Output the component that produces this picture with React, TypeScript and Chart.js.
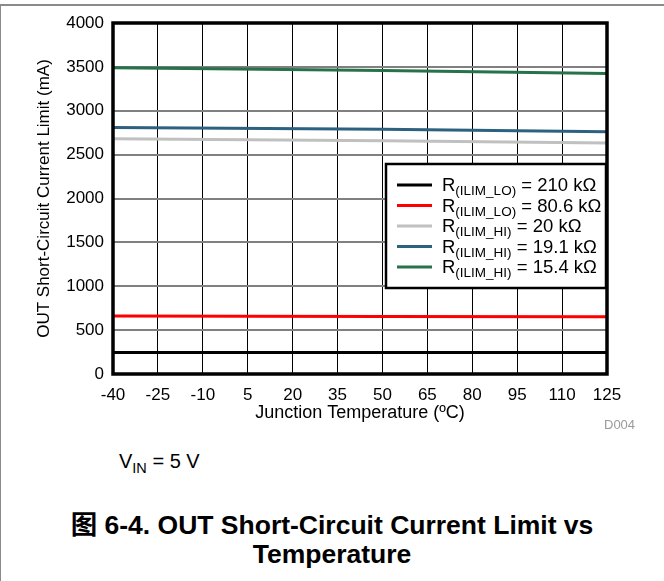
import React, { useEffect, useRef } from "react";
import { Chart, registerables } from "chart.js";

Chart.register(...registerables);

const FONT = "'Liberation Sans', Arial, Helvetica, sans-serif";

// Data
const temperatures = [-40, 50, 125];
const seriesBlack = [245, 245, 245];
const seriesRed = [660, 655, 652];
const seriesGray = [2680, 2658, 2632];
const seriesBlue = [2810, 2790, 2760];
const seriesGreen = [3490, 3460, 3425];

const seriesColors = ["#000000", "#ff0000", "#c0c0c0", "#2d6180", "#277249"];
const legendSub = ["(ILIM_LO)", "(ILIM_LO)", "(ILIM_HI)", "(ILIM_HI)", "(ILIM_HI)"];
const legendValue = ["210 kΩ", "80.6 kΩ", "20 kΩ", "19.1 kΩ", "15.4 kΩ"];

const xMin = -40;
const xMax = 125;
const xStep = 15;
const yMin = 0;
const yMax = 4000;
const yStep = 500;

const toPoints = (vals: number[]) => vals.map((v, i) => ({ x: temperatures[i], y: v }));

const legendPlugin = {
  id: "customLegend",
  afterDatasetsDraw(chart: any) {
    const { ctx, chartArea } = chart;
    const boxW = 220;
    const boxH = 124;
    const x0 = chartArea.right - boxW - 1;
    const y0 = chartArea.top + 141;
    ctx.save();
    ctx.fillStyle = "#ffffff";
    ctx.fillRect(x0, y0, boxW, boxH);
    ctx.lineWidth = 2.5;
    ctx.strokeStyle = "#000000";
    ctx.strokeRect(x0, y0, boxW, boxH);
    chart.data.datasets.forEach((ds: any, i: number) => {
      const y = y0 + 21 + i * 20.5;
      ctx.strokeStyle = ds.borderColor;
      ctx.lineWidth = 3;
      ctx.beginPath();
      ctx.moveTo(x0 + 11, y);
      ctx.lineTo(x0 + 46, y);
      ctx.stroke();
      ctx.fillStyle = "#000000";
      ctx.textBaseline = "alphabetic";
      ctx.textAlign = "left";
      let tx = x0 + 56;
      ctx.font = `18.5px ${FONT}`;
      ctx.fillText("R", tx, y + 6);
      tx += ctx.measureText("R").width;
      ctx.font = `13.5px ${FONT}`;
      ctx.fillText(legendSub[i], tx, y + 10);
      tx += ctx.measureText(legendSub[i]).width;
      ctx.font = `18.5px ${FONT}`;
      ctx.fillText(" = " + legendValue[i], tx, y + 6);
    });
    ctx.restore();
  },
  afterDraw(chart: any) {
    const { ctx, chartArea } = chart;
    ctx.save();
    ctx.strokeStyle = "#000000";
    ctx.lineWidth = 3.5;
    ctx.strokeRect(
      chartArea.left,
      chartArea.top,
      chartArea.right - chartArea.left,
      chartArea.bottom - chartArea.top
    );
    ctx.restore();
  },
};

export default function App() {
  const canvasRef = useRef<HTMLCanvasElement | null>(null);

  useEffect(() => {
    if (!canvasRef.current) return;
    const data = [seriesBlack, seriesRed, seriesGray, seriesBlue, seriesGreen];
    const chart = new Chart(canvasRef.current, {
      type: "line",
      data: {
        datasets: data.map((vals, i) => ({
          label: "R" + legendSub[i] + " = " + legendValue[i],
          data: toPoints(vals),
          borderColor: seriesColors[i],
          backgroundColor: seriesColors[i],
          borderWidth: 3,
          pointRadius: 0,
          tension: 0,
          fill: false,
        })),
      },
      options: {
        animation: false,
        responsive: false,
        maintainAspectRatio: false,
        layout: { padding: { left: 34, top: 23, right: 57, bottom: 16 } },
        plugins: {
          legend: { display: false },
          tooltip: { enabled: false },
        },
        scales: {
          x: {
            type: "linear",
            min: xMin,
            max: xMax,
            afterFit: (scale: any) => {
              scale.height = 50;
            },
            afterBuildTicks: (scale: any) => {
              const t = [];
              for (let v = xMin; v <= xMax; v += xStep) t.push({ value: v });
              scale.ticks = t;
            },
            grid: { color: "#000000", lineWidth: 1, drawTicks: false },
            border: { display: false },
            ticks: {
              color: "#000000",
              padding: 11,
              maxRotation: 0,
              autoSkip: false,
              font: { family: FONT, size: 17 },
              callback: (v: any) => String(v),
            },
            title: {
              display: true,
              text: "Junction Temperature (ºC)",
              color: "#000000",
              padding: 0,
              font: { family: FONT, size: 18 },
            },
          },
          y: {
            type: "linear",
            min: yMin,
            max: yMax,
            afterFit: (scale: any) => {
              scale.width = 79;
            },
            grid: { color: "#808080", lineWidth: 2, drawTicks: false },
            border: { display: false },
            ticks: {
              stepSize: yStep,
              color: "#000000",
              padding: 9,
              font: { family: FONT, size: 17 },
              callback: (v: any) => String(v),
            },
            title: {
              display: true,
              text: "OUT Short-Circuit Current Limit (mA)",
              color: "#000000",
              padding: 0,
              font: { family: FONT, size: 17 },
            },
          },
        },
      },
      plugins: [legendPlugin],
    });
    return () => chart.destroy();
  }, []);

  return (
    <div
      style={{
        position: "absolute",
        left: 0,
        top: 0,
        width: 664,
        height: 581,
        background: "#ffffff",
        fontFamily: FONT,
        color: "#000",
        overflow: "hidden",
      }}
    >
      <div
        style={{
          position: "absolute",
          left: 0,
          top: 4,
          width: 664,
          height: 590,
          borderTop: "2px solid #8a8a8a",
          borderLeft: "1px solid #8a8a8a",
          boxSizing: "border-box",
        }}
      />
      <canvas
        ref={canvasRef}
        width={664}
        height={440}
        style={{ position: "absolute", left: 0, top: 0, width: 664, height: 440 }}
      />
      <div style={{ position: "absolute", left: 604, top: 417, fontSize: 13, color: "#9a9a9a" }}>
        D004
      </div>
      <div
        style={{
          position: "absolute",
          left: 119,
          top: 450,
          fontSize: 20,
          lineHeight: "22px",
          whiteSpace: "nowrap",
        }}
      >
        V<sub style={{ fontSize: 14.5, verticalAlign: "-5px", lineHeight: 0 }}>IN</sub> = 5 V
      </div>
      <div
        style={{
          position: "absolute",
          left: 0,
          top: 511,
          width: 664,
          textAlign: "center",
          fontSize: 26.5,
          fontWeight: "bold",
          lineHeight: "29px",
          whiteSpace: "nowrap",
          fontFamily: `${FONT}, 'Noto Sans CJK SC'`,
        }}
      >
        图 6-4. OUT Short-Circuit Current Limit vs
        <br />
        Temperature
      </div>
    </div>
  );
}
